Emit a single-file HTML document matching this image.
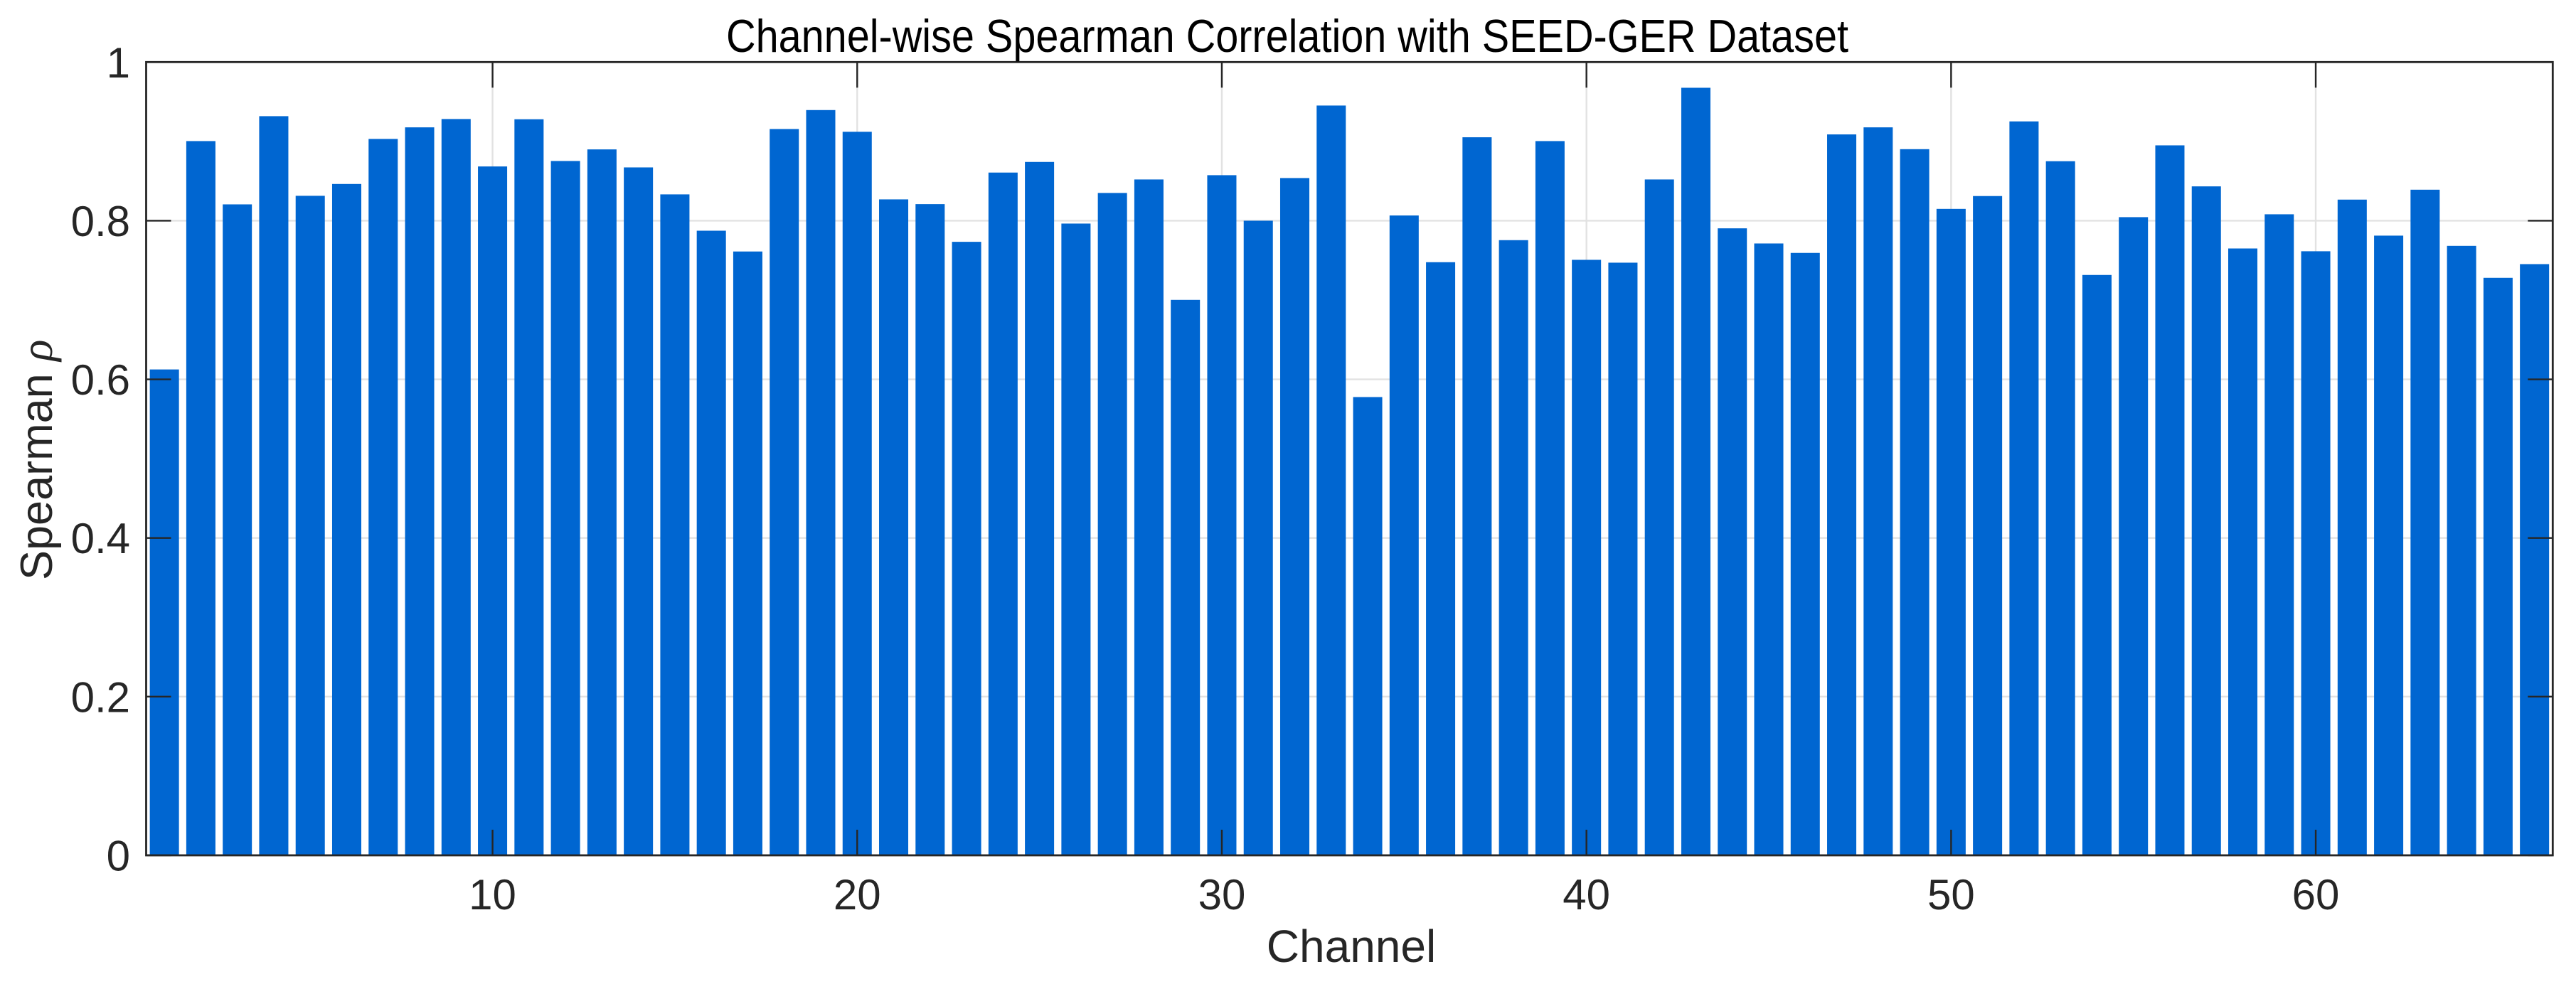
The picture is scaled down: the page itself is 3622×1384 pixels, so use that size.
<!DOCTYPE html>
<html>
<head>
<meta charset="utf-8">
<title>Channel-wise Spearman Correlation with SEED-GER Dataset</title>
<style>
html,body{margin:0;padding:0;background:#fff;width:3622px;height:1384px;overflow:hidden}
svg{display:block}
text{font-family:"Liberation Sans",Arial,sans-serif}
</style>
</head>
<body>
<svg id="chart" xmlns="http://www.w3.org/2000/svg" width="3622" height="1384" viewBox="0 0 3622 1384">
<rect x="0" y="0" width="3622" height="1384" fill="#ffffff"/>
<g id="grid"></g>
<g id="bars"></g>
<g id="ticks"></g>
<rect x="205.5" y="87.3" width="3383.8" height="1115.7" fill="none" stroke="#262626" stroke-width="2.8"/>
<g id="labels"></g>
<text x="1021" y="73" text-anchor="start" font-size="65" fill="#000000" textLength="1578" lengthAdjust="spacingAndGlyphs">Channel-wise Spearman Correlation with SEED-GER Dataset</text>
<text x="1900" y="1353" text-anchor="middle" font-size="64" fill="#262626">Channel</text>
<text transform="translate(73,816) rotate(-90)" font-size="63" fill="#262626">Spearman <tspan style="font-family:'Liberation Serif',serif;font-style:italic">ρ</tspan></text>
</svg>
<script>
const channels = [1,2,3,4,5,6,7,8,9,10,11,12,13,14,15,16,17,18,19,20,21,22,23,24,25,26,27,28,29,30,31,32,33,34,35,36,37,38,39,40,41,42,43,44,45,46,47,48,49,50,51,52,53,54,55,56,57,58,59,60,61,62,63,64,65,66];
const spearmanRho = [0.6125,0.9004,0.8206,0.9318,0.8314,0.8463,0.9031,0.9177,0.9282,0.8684,0.9279,0.8753,0.8899,0.8672,0.8332,0.7874,0.7612,0.9156,0.9395,0.9121,0.8269,0.8209,0.7734,0.8607,0.8741,0.7964,0.8350,0.8520,0.7002,0.8574,0.8000,0.8538,0.9452,0.5777,0.8066,0.7477,0.9052,0.7755,0.9004,0.7507,0.7471,0.8520,0.9676,0.7904,0.7713,0.7594,0.9088,0.9177,0.8902,0.8149,0.8311,0.9252,0.8750,0.7316,0.8045,0.8950,0.8433,0.7650,0.8081,0.7615,0.8266,0.7812,0.8391,0.7683,0.7280,0.7453];
const xTickValues = [10,20,30,40,50,60];
const yTickValues = [0,0.2,0.4,0.6,0.8,1];
const yTickLabels = ['0','0.2','0.4','0.6','0.8','1'];

const NS = 'http://www.w3.org/2000/svg';
const plot = {left:205.5, right:3589.3, top:87.3, bottom:1203};
const xDomain = [0.5,66.5];
const yDomain = [0,1];
const barFraction = 0.8;
function xScale(v){ return plot.left + (v - xDomain[0]) / (xDomain[1] - xDomain[0]) * (plot.right - plot.left); }
function yScale(v){ return plot.bottom - (v - yDomain[0]) / (yDomain[1] - yDomain[0]) * (plot.bottom - plot.top); }
function make(tag, attrs, parent){
  const el = document.createElementNS(NS, tag);
  for (const k in attrs) el.setAttribute(k, attrs[k]);
  parent.appendChild(el);
  return el;
}
const gridG = document.getElementById('grid');
const barsG = document.getElementById('bars');
const ticksG = document.getElementById('ticks');
const labelsG = document.getElementById('labels');

xTickValues.forEach(function(t){
  const line = make('line', {x1:xScale(t), x2:xScale(t), y1:plot.top, y2:plot.bottom, stroke:'#e2e2e2', 'stroke-width':2.4}, gridG);
  
  
});
yTickValues.forEach(function(t){
  if (t === yDomain[0] || t === yDomain[1]) return;
  const line = make('line', {x1:plot.left, x2:plot.right, y1:yScale(t), y2:yScale(t), stroke:'#e2e2e2', 'stroke-width':2.4}, gridG);
  
  
});

const barWidth = barFraction * (xScale(1) - xScale(0));
channels.forEach(function(c, i){
  const top = yScale(spearmanRho[i]);
  const bar = make('rect', {x:xScale(c) - barWidth / 2, y:top, width:barWidth, height:yScale(0) - top, fill:'#0066d1'}, barsG);
  
  
});

const xTickLen = 36;
const yTickLen = 35;
xTickValues.forEach(function(t){
  const x = xScale(t);
  const bottomTick = make('line', {x1:x, x2:x, y1:plot.bottom, y2:plot.bottom - xTickLen, stroke:'#262626', 'stroke-width':2.4}, ticksG);
  
  
  const topTick = make('line', {x1:x, x2:x, y1:plot.top, y2:plot.top + xTickLen, stroke:'#262626', 'stroke-width':2.4}, ticksG);
  
  
  const label = make('text', {x:x, y:1279, 'text-anchor':'middle', 'font-size':60, fill:'#262626'}, labelsG);
  label.textContent = String(t);
  
  
});
yTickValues.forEach(function(t, i){
  const y = yScale(t);
  const leftTick = make('line', {x1:plot.left, x2:plot.left + yTickLen, y1:y, y2:y, stroke:'#262626', 'stroke-width':2.4}, ticksG);
  
  
  const rightTick = make('line', {x1:plot.right, x2:plot.right - yTickLen, y1:y, y2:y, stroke:'#262626', 'stroke-width':2.4}, ticksG);
  
  
  const label = make('text', {x:183, y:y + 21.5, 'text-anchor':'end', 'font-size':60, fill:'#262626'}, labelsG);
  label.textContent = yTickLabels[i];
  
  
});
</script>
</body>
</html>
